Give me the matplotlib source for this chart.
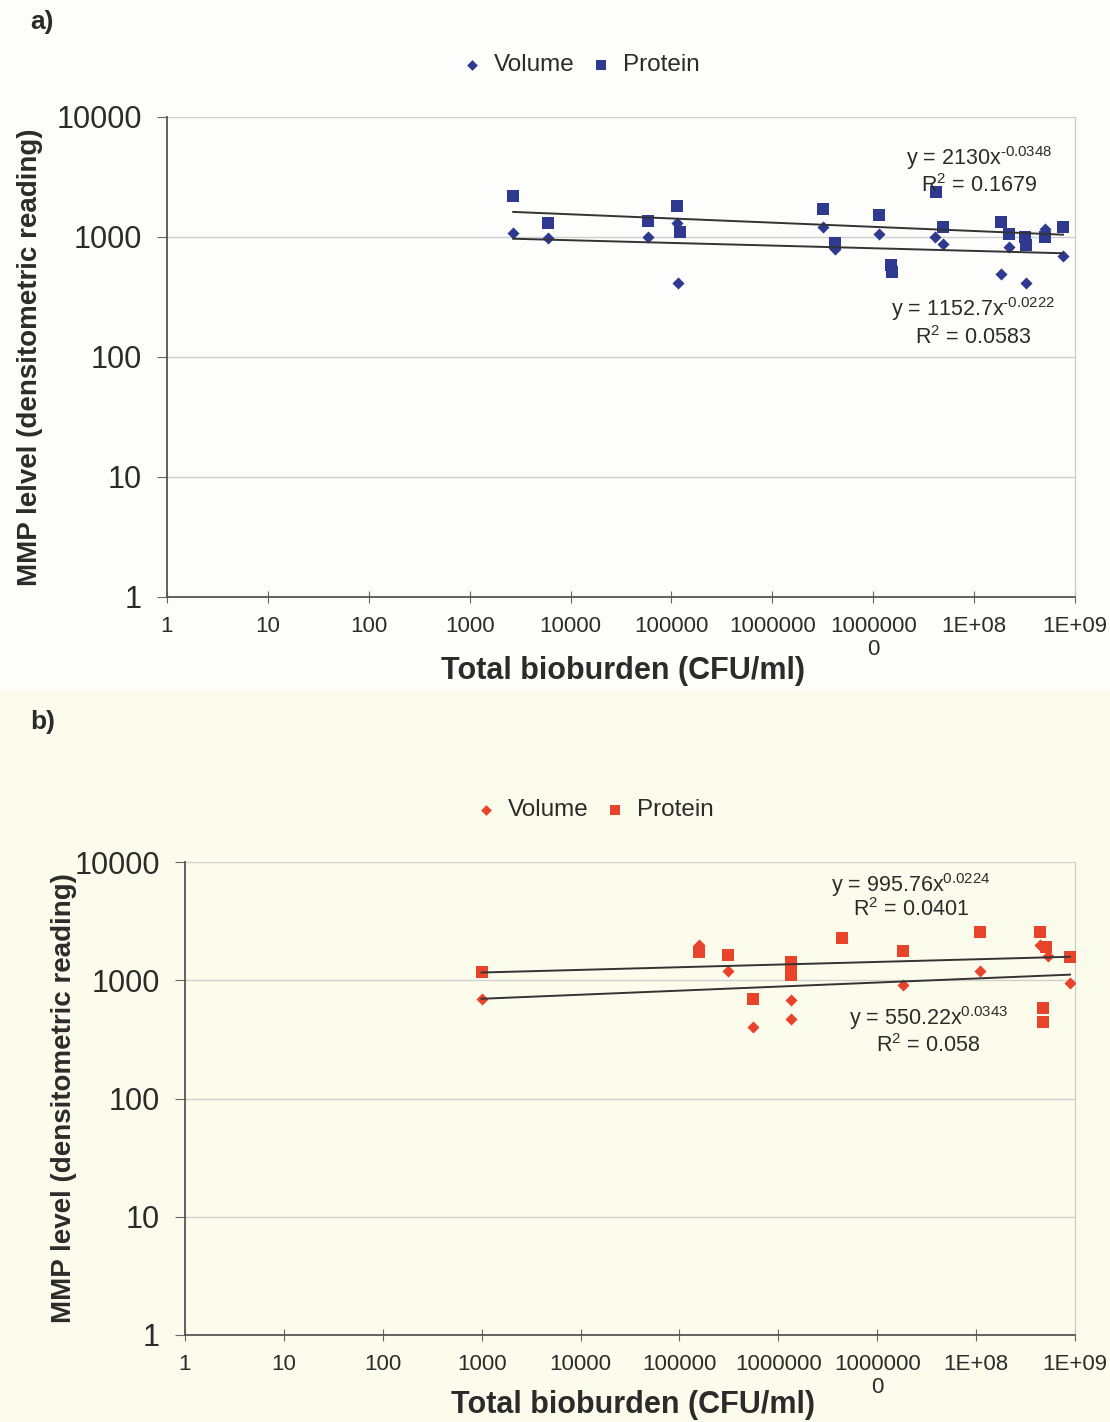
import numpy as np
import matplotlib
matplotlib.use("Agg")
import matplotlib.pyplot as plt
from matplotlib import font_manager
from matplotlib.patches import Rectangle

# Fonts: Arial look-alike
names = {f.name for f in font_manager.fontManager.ttflist}
base_font = "Liberation Sans" if "Liberation Sans" in names else "DejaVu Sans"
plt.rcParams["font.family"] = base_font
plt.rcParams["mathtext.default"] = "regular"

# ---- data, panel a (blue) ----
vol_a_x = [2700, 6000, 59000, 113000, 115000, 3.2e6, 4.2e6, 1.14e7, 4.1e7, 4.9e7,
           1.85e8, 2.2e8, 3.3e8, 5e8, 7.6e8]
vol_a_y = [1080, 980, 1000, 1320, 410, 1200, 800, 1050, 1000, 880,
           490, 830, 415, 1170, 700]
prot_a_x = [2700, 6000, 59000, 113000, 121000, 3.2e6, 4.2e6, 1.14e7, 1.5e7, 1.55e7,
            4.2e7, 4.9e7, 1.85e8, 2.2e8, 3.2e8, 3.3e8, 5e8, 7.6e8]
prot_a_y = [2180, 1300, 1360, 1810, 1100, 1700, 890, 1520, 580, 510,
            2350, 1220, 1340, 1050, 1000, 860, 1000, 1210]

# ---- data, panel b (red) ----
vol_b_x = [1000, 1.57e5, 3.1e5, 5.6e5, 1.33e6, 1.33e6, 1.83e7, 1.1e8, 4.4e8, 5.3e8, 8.9e8]
vol_b_y = [690, 2000, 1200, 405, 680, 468, 910, 1200, 1990, 1600, 955]
prot_b_x = [1000, 1.57e5, 3.1e5, 5.6e5, 1.33e6, 1.33e6, 1.33e6, 4.37e6, 1.83e7, 1.1e8,
            4.4e8, 4.8e8, 4.8e8, 5.1e8, 8.9e8]
prot_b_y = [1180, 1740, 1630, 695, 1430, 1250, 1110, 2260, 1780, 2570,
            2570, 580, 445, 1920, 1560]

# power trendlines y = a * x^b as printed on the chart
fit_a_prot = (2130, -0.0348)
fit_a_vol = (1152.7, -0.0222)
fit_b_prot = (995.76, 0.0224)
fit_b_vol = (550.22, 0.0343)

xtick_vals = [1, 10, 100, 1000, 1e4, 1e5, 1e6, 1e7, 1e8, 1e9]
xtick_labels = ["1", "10", "100", "1000", "10000", "100000", "1000000", "1000000\n0",
                "1E+08", "1E+09"]
ytick_vals = [1, 10, 100, 1000, 10000]
ytick_labels = ["1", "10", "100", "1000", "10000"]

W, H = 1110, 1422
fig = plt.figure(figsize=(W / 100, H / 100), dpi=100)
fig.patch.set_facecolor("#fdfdfc")
# faint yellow tint of the scanned lower half
fig.patches.append(Rectangle((0, 0), 1, 1 - 690 / H, transform=fig.transFigure,
                             facecolor="#fcfcec", edgecolor="none", zorder=-10))

text_col = "#2b2b2b"
HY = "\u2010"  # plain hyphen for the exponents, as in the scan


def px_axes(l, t, r, b):
    return fig.add_axes([l / W, 1 - b / H, (r - l) / W, (b - t) / H])


def draw_panel(ax, vx, vy, px_, py, fit_p, fit_v, color, ylabel, face, notes):
    ax.set_facecolor(face)
    ax.set_xscale("log")
    ax.set_yscale("log")
    ax.set_xlim(1, 1e9)
    ax.set_ylim(1, 10000)
    for yv in ytick_vals[1:]:
        ax.axhline(yv, color="#cfcfcf", lw=1.0, zorder=1)
    ax.scatter(vx, vy, marker="D", s=38, color=color, zorder=3, linewidths=0)
    ax.scatter(px_, py, marker="s", s=72, color=color, zorder=3, linewidths=0)
    for (a, b), xs in ((fit_p, px_), (fit_v, vx)):
        xx = np.geomspace(min(xs), max(xs), 50)
        ax.plot(xx, a * xx ** b, color="#333333", lw=1.4, zorder=4)
    ax.minorticks_off()
    ax.set_xticks(xtick_vals)
    ax.set_xticklabels(xtick_labels, fontsize=16, color=text_col, linespacing=1.1)
    ax.set_yticks(ytick_vals)
    ax.set_yticklabels(ytick_labels, fontsize=22, color=text_col)
    ax.tick_params(axis="x", direction="inout", length=8, pad=10, color="#666666")
    ax.tick_params(axis="y", direction="out", length=7, pad=11, color="#666666")
    ax.spines["top"].set_visible(False)
    ax.spines["right"].set_color("#c8c8c8")
    for s in ("left", "bottom"):
        ax.spines[s].set_color("#555555")
        ax.spines[s].set_linewidth(1.3)
    ax.set_xlabel("Total bioburden (CFU/ml)", fontsize=22, fontweight="bold",
                  color=text_col)
    ax.set_ylabel(ylabel, fontsize=20, fontweight="bold", color=text_col)
    for (tx, ty, s) in notes:
        ax.text(tx, ty, s, transform=ax.transAxes, ha="center", va="center",
                fontsize=15.5, color=text_col, zorder=5)


# ---- panel a ----
ax_a = px_axes(167, 117, 1075, 597)
draw_panel(ax_a, vol_a_x, vol_a_y, prot_a_x, prot_a_y, fit_a_prot, fit_a_vol,
           "#2e3a8f", "MMP lelvel (densitometric reading)", "#fdfdfc",
           [(0.894, 0.915, "y = 2130x$^{" + HY + "0.0348}$"),
            (0.894, 0.857, "R$^2$ = 0.1679"),
            (0.888, 0.600, "y = 1152.7x$^{" + HY + "0.0222}$"),
            (0.888, 0.540, "R$^2$ = 0.0583")])
ax_a.yaxis.set_label_coords(-0.137, 0.5)
ax_a.xaxis.set_label_coords(0.502, -0.123)

# ---- panel b ----
ax_b = px_axes(185, 862, 1075, 1335)
draw_panel(ax_b, vol_b_x, vol_b_y, prot_b_x, prot_b_y, fit_b_prot, fit_b_vol,
           "#e8432b", "MMP level (densitometric reading)", "#fcfcec",
           [(0.816, 0.951, "y = 995.76x$^{0.0224}$"),
            (0.816, 0.899, "R$^2$ = 0.0401"),
            (0.835, 0.670, "y = 550.22x$^{0.0343}$"),
            (0.835, 0.611, "R$^2$ = 0.058")])
ax_b.yaxis.set_label_coords(-0.121, 0.5)
ax_b.xaxis.set_label_coords(0.503, -0.117)

# legends above each panel
for ax, col, cx, cy in ((ax_a, "#2e3a8f", 581, 65), (ax_b, "#e8432b", 595, 810)):
    h1 = ax.scatter([], [], marker="D", s=30, color=col, linewidths=0)
    h2 = ax.scatter([], [], marker="s", s=50, color=col, linewidths=0)
    fig.legend([h1, h2], ["Volume", "Protein"], loc="center",
               bbox_to_anchor=(cx / W, 1 - cy / H), ncol=2, frameon=False,
               fontsize=17.5, handlelength=0.8, handletextpad=0.5,
               columnspacing=0.7, labelcolor=text_col)

fig.text(30 / W, 1 - 22 / H, "a)", fontsize=19, fontweight="bold", color=text_col,
         va="center")
fig.text(30 / W, 1 - 722 / H, "b)", fontsize=19, fontweight="bold", color=text_col,
         va="center")

fig.savefig("out.png", dpi=100, facecolor=fig.get_facecolor())
